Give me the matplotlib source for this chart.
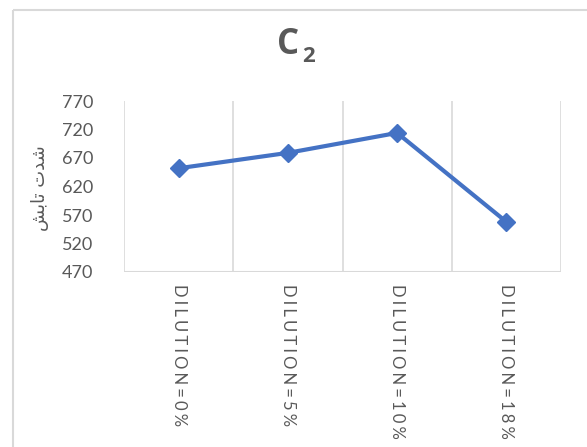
import matplotlib
matplotlib.use("Agg")
import matplotlib.pyplot as plt
from matplotlib.patches import Rectangle

plt.rcParams['font.family'] = ['Lato', 'DejaVu Sans']

categories = ["DILUTION=0%", "DILUTION=5%", "DILUTION=10%", "DILUTION=18%"]
values = [652, 679, 714, 558]
y_ticks = [470, 520, 570, 620, 670, 720, 770]
title_main = "C"
title_sub = "2"
# "شدت تابش" written in visual order with Arabic presentation forms
y_label = "\uFEB6\uFE91\uFE8E\uFE97 \uFE95\uFEAA\uFEB7"

W, H = 587, 447
fig = plt.figure(figsize=(W / 100, H / 100), dpi=100)
fig.patch.set_facecolor("white")

# outer chart frame
fig.add_artist(Rectangle((13 / W, 1 - 10 / H), 1, -1, transform=fig.transFigure,
                         fill=False, edgecolor="#D9D9D9", linewidth=1.5))

ax = fig.add_axes([124 / W, 1 - 272 / H, (561 - 124) / W, (272 - 101) / H])

x = list(range(len(categories)))
ax.plot(x, values, color="#4472C4", linewidth=3, marker="D", markersize=9.5,
        markerfacecolor="#4472C4", markeredgecolor="#4472C4", zorder=3)

ax.set_xlim(-0.5, len(categories) - 0.5)
ax.set_ylim(y_ticks[0], y_ticks[-1])
ax.set_yticks(y_ticks)
ax.set_yticklabels([str(v) for v in y_ticks])

# vertical gridlines at category boundaries
for b in [i - 0.5 for i in range(len(categories) + 1)]:
    ax.axvline(b, color="#D9D9D9", linewidth=1.2, zorder=1)

for s in ax.spines.values():
    s.set_visible(False)
ax.axhline(y_ticks[0], color="#D9D9D9", linewidth=1.5, zorder=1)

spaced = ["\u2009\u200A".join(c) for c in categories]
ax.set_xticks(x)
ax.set_xticklabels(spaced, rotation=270, va="top", ha="center",
                   fontsize=12, color="#595959")
ax.tick_params(axis="x", length=0, pad=9)
ax.tick_params(axis="y", length=0, pad=22, labelsize=13, labelcolor="#595959")

fig.text(40 / W, 1 - 188 / H, y_label, rotation=90, ha="center", va="center",
         fontsize=13, color="#595959", family=['DejaVu Sans'])

fig.text(288 / W, 1 - 45 / H, title_main, ha="center", va="center",
         fontsize=25, fontweight="bold", color="#595959",
         family=['Open Sans', 'DejaVu Sans'])
fig.text(302 / W, 1 - 56 / H, title_sub, ha="left", va="center",
         fontsize=16, fontweight="bold", color="#595959",
         family=['Open Sans', 'DejaVu Sans'])

fig.savefig("out.png", dpi=100, facecolor="white")
